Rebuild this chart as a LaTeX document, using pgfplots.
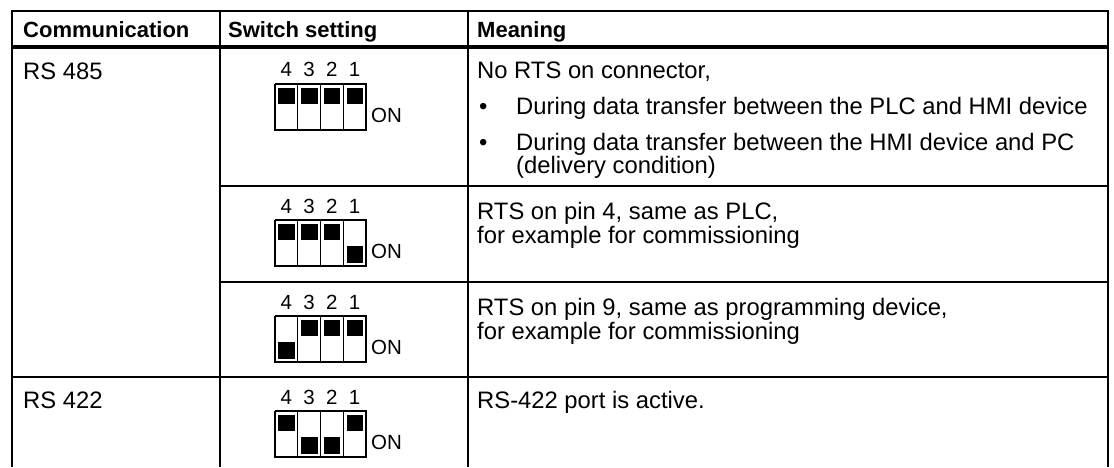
\documentclass[border=0pt]{standalone}
\usepackage{pgfplots}
\usepackage{pgfplotstable}
\pgfplotsset{compat=1.18}
\usepackage{fontspec}
\setmainfont{Liberation Sans}

% switch knobs: x = cell centre, y = knob centre (image pixels, y downwards)
\pgfplotstableread{
x y
286.4 95.5
309.1 95.5
331.9 95.5
354.6 95.5
286.4 231.5
309.1 231.5
331.9 231.5
354.6 254.0
286.4 350.0
309.1 327.5
331.9 327.5
354.6 327.5
286.4 422.5
309.1 445.0
331.9 445.0
354.6 422.5
}\knobs

\begin{document}
\begin{tikzpicture}[
  body/.style={anchor=base west, inner sep=0pt, font=\fontsize{23.8}{28}\selectfont},
  head/.style={anchor=base west, inner sep=0pt, font=\fontsize{22}{26}\selectfont\bfseries},
  small/.style={anchor=base, inner sep=0pt, font=\fontsize{20.5}{24}\selectfont},
  smallw/.style={anchor=base west, inner sep=0pt, font=\fontsize{20.5}{24}\selectfont},
]
\begin{axis}[
  hide axis, scale only axis,
  width=1114pt, height=467pt,
  xmin=0, xmax=1114, ymin=0, ymax=467,
  y dir=reverse, clip=false,
]
\path (axis cs:0,0) rectangle (axis cs:1114,467);

% table frame
\addplot[black, line width=1.5pt, line cap=rect] coordinates {(12,11) (1108,11)};
\addplot[black, line width=3.5pt] coordinates {(12,47) (1108,47)};
\addplot[black, line width=1.5pt] coordinates {(12,11) (12,467)};
\addplot[black, line width=1.5pt] coordinates {(220,11) (220,467)};
\addplot[black, line width=1.5pt] coordinates {(468,11) (468,467)};
\addplot[black, line width=1.5pt] coordinates {(1108,11) (1108,467)};
\addplot[black, line width=1.5pt] coordinates {(220,186) (1108,186)};
\addplot[black, line width=1.5pt] coordinates {(220,282) (1108,282)};
\addplot[black, line width=1.5pt] coordinates {(12,377) (1108,377)};

% switch boxes
\addplot[black, line width=1.7pt, line join=miter] coordinates {(275,84) (366,84) (366,130) (275,130) (275,84)};
\addplot[black, line width=1.7pt, line join=miter] coordinates {(275,220) (366,220) (366,266) (275,266) (275,220)};
\addplot[black, line width=1.7pt, line join=miter] coordinates {(275,316) (366,316) (366,362) (275,362) (275,316)};
\addplot[black, line width=1.7pt, line join=miter] coordinates {(275,411) (366,411) (366,457) (275,457) (275,411)};
\addplot[black, line width=1.3pt] coordinates {(297.75,84) (297.75,130)};
\addplot[black, line width=1.3pt] coordinates {(320.5,84) (320.5,130)};
\addplot[black, line width=1.3pt] coordinates {(343.25,84) (343.25,130)};
\addplot[black, line width=1.3pt] coordinates {(297.75,220) (297.75,266)};
\addplot[black, line width=1.3pt] coordinates {(320.5,220) (320.5,266)};
\addplot[black, line width=1.3pt] coordinates {(343.25,220) (343.25,266)};
\addplot[black, line width=1.3pt] coordinates {(297.75,316) (297.75,362)};
\addplot[black, line width=1.3pt] coordinates {(320.5,316) (320.5,362)};
\addplot[black, line width=1.3pt] coordinates {(343.25,316) (343.25,362)};
\addplot[black, line width=1.3pt] coordinates {(297.75,411) (297.75,457)};
\addplot[black, line width=1.3pt] coordinates {(320.5,411) (320.5,457)};
\addplot[black, line width=1.3pt] coordinates {(343.25,411) (343.25,457)};

\addplot[only marks, mark=square*, mark size=7.75pt, mark options={fill=black, draw=none}] table {\knobs};

% header
\node[head] at (axis cs:23,38) {Communication};
\node[head] at (axis cs:228,38) {Switch setting};
\node[head] at (axis cs:477,38) {Meaning};

% first column
\node[body] at (axis cs:23,80) {RS 485};
\node[body] at (axis cs:23,408) {RS 422};

% switch labels
\node[small] at (axis cs:286.4,77) {4};
\node[small] at (axis cs:309.1,77) {3};
\node[small] at (axis cs:331.9,77) {2};
\node[small] at (axis cs:354.6,77) {1};
\node[smallw] at (axis cs:371,122.5) {ON};
\node[small] at (axis cs:286.4,213) {4};
\node[small] at (axis cs:309.1,213) {3};
\node[small] at (axis cs:331.9,213) {2};
\node[small] at (axis cs:354.6,213) {1};
\node[smallw] at (axis cs:371,258.5) {ON};
\node[small] at (axis cs:286.4,309) {4};
\node[small] at (axis cs:309.1,309) {3};
\node[small] at (axis cs:331.9,309) {2};
\node[small] at (axis cs:354.6,309) {1};
\node[smallw] at (axis cs:371,354.5) {ON};
\node[small] at (axis cs:286.4,404) {4};
\node[small] at (axis cs:309.1,404) {3};
\node[small] at (axis cs:331.9,404) {2};
\node[small] at (axis cs:354.6,404) {1};
\node[smallw] at (axis cs:371,449.5) {ON};

% meaning column
\node[body] at (axis cs:477,79) {No RTS on connector,};
\node[body] at (axis cs:479,115) {\textbullet};
\node[body] at (axis cs:516,115) {During data transfer between the PLC and HMI device};
\node[body] at (axis cs:479,150) {\textbullet};
\node[body] at (axis cs:516,150) {During data transfer between the HMI device and PC};
\node[body] at (axis cs:516,174) {(delivery condition)};

\node[body] at (axis cs:477,219) {RTS on pin 4, same as PLC,};
\node[body] at (axis cs:477,243) {for example for commissioning};
\node[body] at (axis cs:477,315) {RTS on pin 9, same as programming device,};
\node[body] at (axis cs:477,339) {for example for commissioning};
\node[body] at (axis cs:477,408) {RS-422 port is active.};
\end{axis}
\end{tikzpicture}
\end{document}
